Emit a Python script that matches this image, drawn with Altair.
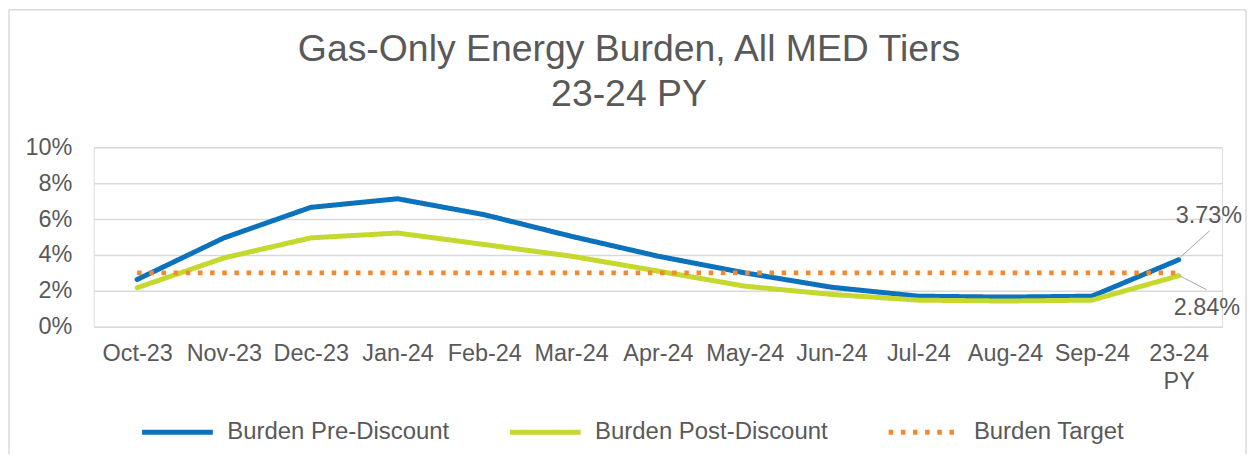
import altair as alt
import pandas as pd

months = ["Oct-23", "Nov-23", "Dec-23", "Jan-24", "Feb-24", "Mar-24", "Apr-24",
          "May-24", "Jun-24", "Jul-24", "Aug-24", "Sep-24", "23-24 PY"]
pre_discount = [2.63, 4.95, 6.65, 7.13, 6.24, 5.04, 3.93, 3.00, 2.20, 1.70, 1.65, 1.70, 3.73]
post_discount = [2.17, 3.83, 4.95, 5.22, 4.58, 3.93, 3.10, 2.26, 1.80, 1.48, 1.43, 1.48, 2.84]
target = [3.0, 3.0, 3.0, 3.0, 3.0, 3.0, 3.0, 3.0, 3.0, 3.0, 3.0, 3.0, 3.0]
series_names = ["Burden Pre-Discount", "Burden Post-Discount", "Burden Target"]
series_colors = ["#0D72BC", "#C4D82E", "#F5882A"]
y_ticks = [0, 2, 4, 6, 8, 10]

rows = []
for name, vals in zip(series_names, [pre_discount, post_discount, target]):
    for m, v in zip(months, vals):
        rows.append({"month": m, "series": name, "value": v})
df = pd.DataFrame(rows)

FONT = "Liberation Sans"
TXT = "#595959"
W, H = 1132, 180

x = alt.X("month:N", sort=months, scale=alt.Scale(type="point", padding=0.5),
          axis=alt.Axis(title=None, labelAngle=0, ticks=False, domain=False, grid=False,
                        labelPadding=15, labelFontSize=23.5, labelColor=TXT, labelFont=FONT,
                        labelLineHeight=28, labelOverlap=False,
                        labelExpr="datum.label == '23-24 PY' ? ['23-24', 'PY'] : datum.label"))
y = alt.Y("value:Q", scale=alt.Scale(domain=[0, 10]),
          axis=alt.Axis(title=None, values=y_ticks, labelExpr="datum.value + '%'",
                        ticks=False, domain=False, gridColor="#D9D9D9", gridWidth=1.5,
                        labelOverlap=False,
                        labelPadding=22, labelFontSize=23.5, labelColor=TXT, labelFont=FONT))
x2 = alt.X2("month:N")
y2 = alt.Y2("value:Q")
color = alt.Color("series:N", sort=series_names,
                  scale=alt.Scale(domain=series_names, range=series_colors),
                  legend=alt.Legend(title=None, orient="none", legendX=46, legendY=248,
                                    direction="horizontal", symbolType="stroke",
                                    symbolSize=5041, symbolStrokeWidth=5,
                                    labelFontSize=24, labelColor=TXT, labelFont=FONT,
                                    labelLimit=500, labelOffset=12, columnPadding=50))
dash = alt.StrokeDash("series:N", sort=series_names,
                      scale=alt.Scale(domain=series_names, range=[[1, 0], [1, 0], [4.5, 7.7]]),
                      legend=None)

base = alt.Chart(df)
layers = []
for name in series_names:
    cap = "butt" if name == "Burden Target" else "round"
    layers.append(
        base.transform_filter(alt.datum.series == name)
        .mark_line(strokeWidth=5, strokeCap=cap, strokeJoin="round")
        .encode(x=x, y=y, color=color, strokeDash=dash)
    )

def end_filter(name):
    return (alt.datum.month == "23-24 PY") & (alt.datum.series == name)

lead_pre = base.transform_filter(end_filter("Burden Pre-Discount")).mark_rule(
    color="#A6A6A6", strokeWidth=1, xOffset=1, x2Offset=31, yOffset=-2, y2Offset=-29
).encode(x=x, x2=x2, y=y, y2=y2)
lead_post = base.transform_filter(end_filter("Burden Post-Discount")).mark_rule(
    color="#A6A6A6", strokeWidth=1, xOffset=1, x2Offset=28, yOffset=0, y2Offset=14
).encode(x=x, x2=x2, y=y, y2=y2)

lab_pre = base.transform_filter(end_filter("Burden Pre-Discount")).transform_calculate(
    lbl="format(datum.value, '.2f') + '%'"
).mark_text(align="left", baseline="alphabetic", dx=-3, dy=-37, fontSize=23.5, color=TXT, font=FONT).encode(
    x=x, y=y, text="lbl:N")
lab_post = base.transform_filter(end_filter("Burden Post-Discount")).transform_calculate(
    lbl="format(datum.value, '.2f') + '%'"
).mark_text(align="left", baseline="alphabetic", dx=-5, dy=39, fontSize=23.5, color=TXT, font=FONT).encode(
    x=x, y=y, text="lbl:N")

# chart frame (top, left, right edges; bottom lies below the visible area in the reference)
frame_df = pd.DataFrame({"a": [0]})
frame_top = alt.Chart(frame_df).mark_rule(stroke="#D9D9D9", strokeWidth=1.5).encode(
    x=alt.value(-85), x2=alt.value(1156), y=alt.value(-138))
frame_left = alt.Chart(frame_df).mark_rule(stroke="#D9D9D9", strokeWidth=1.5).encode(
    x=alt.value(-85), y=alt.value(-138), y2=alt.value(308))
frame_right = alt.Chart(frame_df).mark_rule(stroke="#D9D9D9", strokeWidth=1.5).encode(
    x=alt.value(1156), y=alt.value(-138), y2=alt.value(308))

chart = alt.layer(frame_top, frame_left, frame_right, *layers,
                  lead_pre, lead_post, lab_pre, lab_post).properties(
    width=W, height=H,
    padding=0,
    title=alt.TitleParams(text=["Gas-Only Energy Burden, All MED Tiers", "23-24 PY"],
                          fontSize=37.5, lineHeight=45, font=FONT, color=TXT,
                          fontWeight="normal", anchor="middle", dx=-29, offset=-105),
).configure_view(stroke=None).configure(background="white")

chart.save("out.html", embed_options={"renderer": "svg", "actions": False})
